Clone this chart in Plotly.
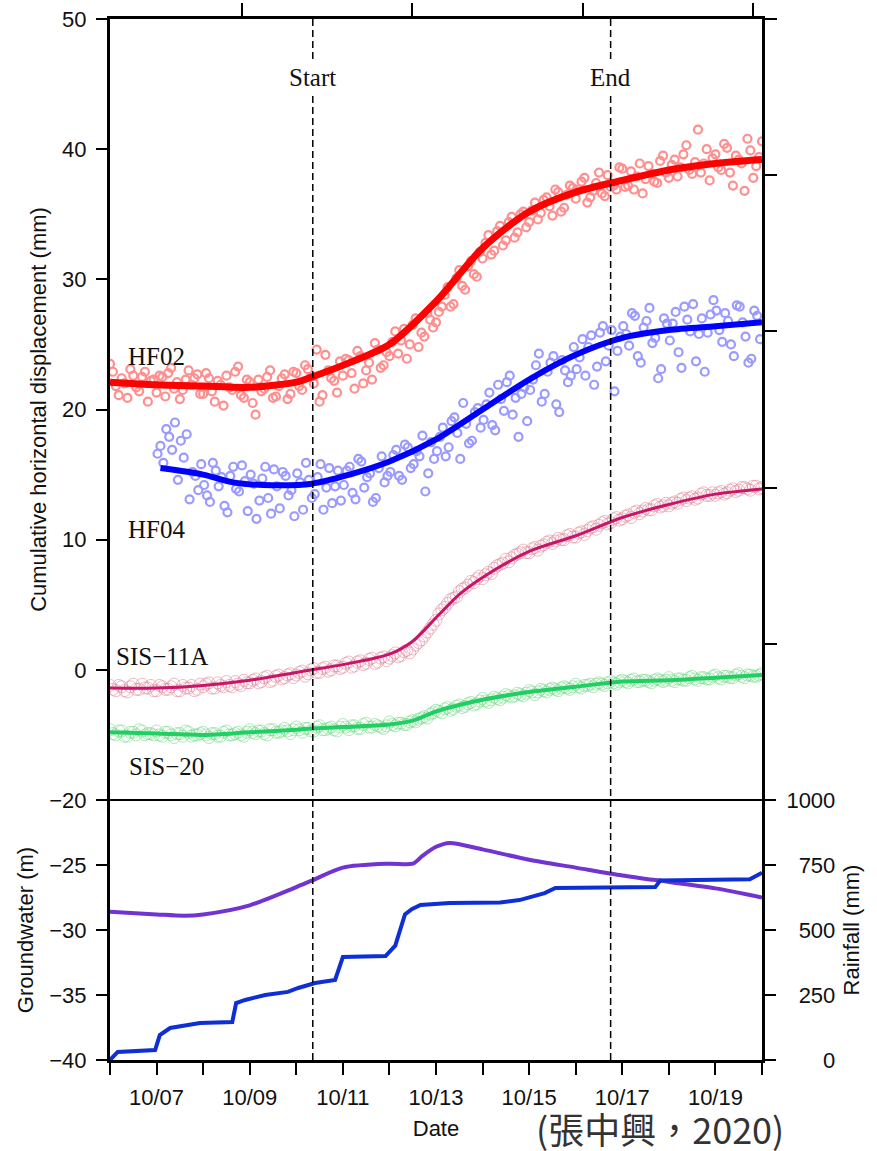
import pandas as pd
import plotly.graph_objects as go

# ---------------- data ----------------
# HF02 smooth curve
hf02_t = ["2020-10-06 00:00", "2020-10-07 00:00", "2020-10-08 00:00", "2020-10-09 00:00",
          "2020-10-10 00:00", "2020-10-10 08:00", "2020-10-11 03:30", "2020-10-12 00:00",
          "2020-10-13 00:00", "2020-10-14 00:00", "2020-10-15 00:00", "2020-10-16 00:00",
          "2020-10-17 00:00", "2020-10-18 00:00", "2020-10-19 00:00", "2020-10-20 00:00"]
hf02_v = [22.1, 21.9, 21.8, 21.7, 22.1, 22.5, 23.6, 25.0, 28.3, 32.4, 35.2, 36.7, 37.6, 38.4, 38.9, 39.2]

# HF04 smooth curve
hf04_t = ["2020-10-07 02:00", "2020-10-08 00:00", "2020-10-08 15:30", "2020-10-09 07:00",
          "2020-10-10 08:00", "2020-10-11 03:30", "2020-10-12 00:00", "2020-10-13 00:00",
          "2020-10-14 00:00", "2020-10-15 00:00", "2020-10-16 00:00", "2020-10-17 00:00",
          "2020-10-18 00:00", "2020-10-19 00:00", "2020-10-20 00:00"]
hf04_v = [15.5, 15.0, 14.4, 14.2, 14.3, 15.0, 16.0, 17.7, 20.0, 22.3, 24.2, 25.5, 26.1, 26.4, 26.7]

# SIS inclinometer curves
sis_t = ["2020-10-06 00:00", "2020-10-07 00:00", "2020-10-08 00:00", "2020-10-09 00:00",
         "2020-10-10 00:00", "2020-10-10 08:00", "2020-10-11 00:00", "2020-10-12 00:00",
         "2020-10-12 12:00", "2020-10-13 00:00", "2020-10-13 12:00", "2020-10-14 00:00",
         "2020-10-15 00:00", "2020-10-16 00:00", "2020-10-17 00:00", "2020-10-18 00:00",
         "2020-10-19 00:00", "2020-10-20 00:00"]
sis11a_v = [-1.4, -1.4, -1.2, -0.8, -0.2, 0.0, 0.4, 1.2, 2.2, 4.0, 5.8, 7.1, 9.1, 10.3, 11.7, 12.7, 13.5, 13.9]
sis20_v = [-4.8, -4.9, -5.0, -4.8, -4.6, -4.5, -4.4, -4.2, -3.9, -3.2, -2.7, -2.3, -1.7, -1.3, -0.9, -0.8, -0.6, -0.4]

# raw observations, set A (3-hourly from 00:00)
hf02_pts = [23.5, 21.8, 22.4, 20.9, 22.6, 21.4, 22.9, 22.2,
            21.3, 22.5, 22.8, 21.6, 20.8, 22.3, 21.9, 22.7,
            21.2, 22.4, 20.6, 21.9, 22.6, 21.5, 23.3, 20.9,
            22.1, 19.6, 21.4, 22.5, 20.9, 21.8, 22.7, 21.2,
            22.8, 21.5, 23.1, 22.0, 20.6, 24.2, 22.4, 21.3,
            22.6, 23.8, 21.6, 24.1, 23.0, 22.3, 24.6, 23.4,
            24.1, 26.0, 25.3, 23.9, 26.5, 24.8, 25.6, 26.9,
            26.7, 27.9, 29.4, 28.1, 30.7, 29.2, 31.4, 30.2,
            31.6, 33.4, 32.2, 34.1, 33.0, 34.8, 33.6, 35.2,
            34.4, 35.9, 35.1, 36.3, 34.9, 36.7, 35.5, 37.2,
            36.2, 37.5, 35.9, 36.8, 38.2, 36.4, 37.1, 36.9,
            38.5, 37.2, 36.9, 38.9, 37.7, 38.1, 37.4, 39.5,
            37.8, 39.2, 38.6, 40.3, 38.1, 41.5, 38.9, 37.6,
            39.6, 38.4, 40.1, 37.2, 39.2, 36.8, 39.9, 38.7,
            40.6]
hf04_pts = [16.6, 15.9, 17.9, 19.0, 17.6, 18.1, 15.2, 13.8,
            14.2, 12.9, 15.3, 14.8, 12.1, 15.6, 13.7, 14.5,
            15.0, 11.6, 14.7, 13.2, 15.4, 12.4, 14.9, 13.8,
            15.1, 12.3, 14.6, 13.5, 15.8, 14.0, 12.8, 15.3,
            14.2, 15.6, 13.1, 16.0, 14.8, 12.9, 15.5, 14.4,
            15.2, 16.9, 14.6, 17.1, 15.8, 16.4, 13.7, 17.5,
            16.8, 18.6, 17.1, 19.4, 16.2, 18.9, 17.6, 20.1,
            19.2, 21.3, 18.4, 20.8, 22.1, 19.6, 17.9, 21.7,
            21.5, 23.4, 20.6, 22.9, 24.1, 19.8, 23.0, 22.6,
            23.1, 25.4, 24.8, 21.9, 25.9, 23.7, 26.1, 24.5,
            26.4, 24.9, 27.2, 23.6, 26.8, 25.1, 22.4, 27.0,
            25.3, 27.5, 23.2, 26.9, 28.1, 25.8, 22.9, 27.3,
            27.6, 25.2, 26.8, 24.1, 27.9, 25.6, 23.9, 27.2]
sis11a_pts = [-1.2, -1.6, -1.3, -1.7, -1.1, -1.5, -1.4, -1.2,
              -1.6, -1.3, -1.5, -1.1, -1.6, -1.4, -1.2, -1.5,
              -1.3, -1.0, -1.4, -1.2, -0.9, -1.3, -1.1, -0.8,
              -1.0, -0.7, -0.9, -0.5, -0.8, -0.4, -0.6, -0.3,
              -0.4, -0.1, -0.3, 0.1, -0.2, 0.2, 0.0, 0.3,
              0.2, 0.6, 0.3, 0.7, 0.5, 0.9, 0.6, 1.0,
              0.9, 1.3, 1.1, 1.5, 1.6, 2.1, 2.6, 3.2,
              3.8, 4.6, 5.1, 5.5, 6.0, 6.3, 6.8, 7.0,
              7.0, 7.5, 7.8, 8.1, 8.5, 8.6, 8.9, 9.2,
              9.0, 9.4, 9.5, 9.8, 9.7, 10.1, 10.0, 10.4,
              10.2, 10.6, 10.7, 11.0, 11.1, 11.4, 11.3, 11.7,
              11.6, 11.9, 12.1, 12.0, 12.4, 12.3, 12.7, 12.6,
              12.6, 12.9, 13.1, 13.0, 13.3, 13.2, 13.6, 13.4,
              13.4, 13.7, 13.6, 13.9, 13.8, 14.0, 13.8, 14.1,
              14.0]
sis20_pts = [-4.6, -5.0, -4.7, -5.1, -4.8, -4.6, -5.0, -4.9,
             -4.7, -5.1, -4.8, -5.2, -4.9, -4.7, -5.1, -5.0,
             -4.8, -5.2, -4.9, -5.1, -4.7, -5.0, -4.8, -5.1,
             -4.6, -4.9, -4.7, -5.0, -4.6, -4.8, -4.5, -4.9,
             -4.4, -4.8, -4.5, -4.7, -4.3, -4.6, -4.4, -4.7,
             -4.2, -4.6, -4.3, -4.5, -4.1, -4.4, -4.3, -4.5,
             -4.0, -4.3, -4.1, -4.2, -3.9, -3.8, -3.6, -3.4,
             -3.1, -3.3, -2.9, -3.0, -2.7, -2.8, -2.5, -2.6,
             -2.2, -2.5, -2.1, -2.3, -1.9, -2.1, -1.8, -2.0,
             -1.6, -1.9, -1.5, -1.7, -1.4, -1.6, -1.3, -1.5,
             -1.1, -1.4, -1.2, -1.3, -1.0, -1.2, -0.9, -1.1,
             -0.8, -1.0, -0.7, -0.9, -0.8, -1.0, -0.7, -0.9,
             -0.6, -0.9, -0.7, -0.8, -0.5, -0.8, -0.6, -0.7,
             -0.4, -0.7, -0.5, -0.6, -0.3, -0.6, -0.4, -0.5,
             -0.3]

# raw observations, set B (3-hourly, offset by 1.5 h)
hf02_pts_b = [22.9, 21.1, 22.0, 23.1, 21.7, 22.5, 20.6, 22.3,
              22.6, 21.0, 23.2, 22.1, 21.5, 23.0, 22.4, 21.2,
              22.8, 21.4, 22.2, 20.3, 21.7, 22.9, 21.1, 22.3,
              20.5, 22.3, 21.6, 23.0, 21.0, 22.4, 20.8, 22.9,
              21.8, 23.4, 22.5, 24.6, 21.1, 23.0, 22.2, 23.7,
              23.9, 22.8, 24.5, 22.0, 23.6, 25.1, 23.2, 24.4,
              25.2, 24.3, 26.2, 25.0, 27.0, 25.9, 27.4, 26.3,
              27.5, 28.8, 27.9, 30.1, 29.5, 31.0, 30.4, 32.1,
              32.8, 31.9, 33.7, 32.6, 34.4, 33.2, 35.0, 34.0,
              35.3, 34.6, 36.1, 35.6, 36.9, 35.2, 36.5, 37.0,
              36.9, 37.8, 36.3, 37.4, 36.6, 38.0, 37.2, 38.6,
              37.1, 38.3, 37.9, 36.6, 38.7, 37.5, 39.1, 38.2,
              38.8, 37.9, 39.6, 38.4, 39.0, 38.2, 40.0, 39.3,
              38.6, 40.4, 38.2, 39.5, 38.9, 40.8, 37.8, 39.4]
hf04_pts_b = [17.2, 18.5, 16.9, 14.6, 16.3, 13.1, 14.9, 15.8,
              13.4, 15.9, 14.1, 12.6, 14.9, 13.9, 15.7, 12.2,
              14.3, 13.0, 15.6, 12.0, 14.1, 15.2, 13.4, 11.8,
              14.4, 15.9, 13.2, 14.8, 12.3, 15.5, 14.1, 13.0,
              15.3, 13.6, 16.2, 14.0, 15.1, 13.2, 16.4, 14.9,
              16.5, 14.9, 17.3, 15.5, 16.8, 18.0, 15.1, 16.2,
              17.9, 16.4, 19.1, 18.2, 20.5, 17.4, 19.8, 18.6,
              20.4, 18.8, 21.9, 19.9, 22.6, 20.9, 21.2, 19.1,
              22.3, 24.3, 21.2, 23.6, 20.4, 23.8, 22.1, 24.8,
              24.0, 22.6, 25.7, 23.3, 26.4, 24.9, 21.4, 25.6,
              25.8, 27.4, 24.1, 26.3, 27.8, 25.5, 23.1, 26.6,
              26.6, 24.4, 27.9, 26.0, 23.7, 27.0, 25.9, 28.4,
              26.1, 27.4, 25.0, 28.0, 26.7, 23.6, 27.6, 25.4]
sis11a_pts_b = [-1.5, -1.2, -1.6, -1.3, -1.5, -1.1, -1.4, -1.6,
                -1.2, -1.5, -1.3, -1.6, -1.2, -1.4, -1.6, -1.1,
                -1.1, -1.4, -1.0, -1.3, -1.2, -0.9, -1.2, -1.0,
                -0.8, -1.0, -0.6, -0.9, -0.5, -0.7, -0.4, -0.6,
                -0.2, -0.5, 0.0, -0.2, 0.1, -0.1, 0.3, 0.1,
                0.5, 0.2, 0.6, 0.4, 0.8, 0.5, 0.9, 0.7,
                1.1, 1.0, 1.4, 1.3, 1.9, 2.3, 2.9, 3.5,
                4.3, 4.8, 5.4, 5.6, 6.2, 6.5, 6.7, 7.2,
                7.3, 7.4, 8.0, 8.2, 8.3, 8.8, 9.0, 9.0,
                9.3, 9.2, 9.6, 9.9, 9.9, 10.0, 10.3, 10.2,
                10.5, 10.4, 10.9, 10.8, 11.3, 11.2, 11.6, 11.5,
                11.8, 11.7, 12.2, 12.2, 12.3, 12.6, 12.5, 12.8,
                12.8, 12.8, 13.2, 13.2, 13.1, 13.5, 13.4, 13.6,
                13.6, 13.5, 13.8, 13.7, 14.0, 13.9, 14.1, 13.9]
sis20_pts_b = [-4.9, -4.7, -5.1, -4.8, -5.0, -4.7, -4.9, -5.0,
               -5.0, -4.8, -5.0, -4.9, -5.1, -4.8, -5.0, -4.9,
               -5.0, -4.9, -5.1, -4.8, -5.0, -4.9, -5.0, -4.8,
               -4.8, -4.7, -4.9, -4.6, -4.8, -4.7, -4.7, -4.6,
               -4.6, -4.5, -4.7, -4.4, -4.6, -4.5, -4.6, -4.4,
               -4.4, -4.3, -4.5, -4.2, -4.4, -4.2, -4.4, -4.3,
               -4.2, -4.1, -4.2, -4.0, -4.0, -3.7, -3.7, -3.3,
               -3.2, -3.0, -3.1, -2.8, -2.9, -2.6, -2.7, -2.4,
               -2.4, -2.3, -2.2, -2.1, -2.0, -2.0, -1.9, -1.8,
               -1.7, -1.7, -1.6, -1.5, -1.5, -1.4, -1.4, -1.3,
               -1.3, -1.2, -1.1, -1.1, -1.1, -1.0, -1.0, -0.9,
               -0.9, -0.8, -0.9, -0.8, -0.9, -0.8, -0.8, -0.8,
               -0.8, -0.7, -0.8, -0.6, -0.7, -0.6, -0.7, -0.5,
               -0.6, -0.5, -0.6, -0.4, -0.5, -0.4, -0.5, -0.4]

# groundwater level (m)
gw_t = ["2020-10-06 00:00", "2020-10-07 00:00", "2020-10-07 14:00", "2020-10-08 00:00",
        "2020-10-09 00:00", "2020-10-10 00:00", "2020-10-10 08:00", "2020-10-11 00:00",
        "2020-10-12 00:00", "2020-10-12 12:00", "2020-10-12 17:00", "2020-10-13 00:00",
        "2020-10-13 07:00", "2020-10-14 00:00", "2020-10-15 00:00", "2020-10-16 00:00",
        "2020-10-17 00:00", "2020-10-18 00:00", "2020-10-19 00:00", "2020-10-20 00:00"]
gw_v = [-28.6, -28.8, -28.9, -28.8, -28.1, -26.7, -26.2, -25.2, -24.9, -24.9, -24.3, -23.6,
        -23.3, -23.8, -24.6, -25.2, -25.8, -26.3, -26.8, -27.5]

# cumulative rainfall (mm)
rain_t = ["2020-10-06 00:00", "2020-10-06 04:00", "2020-10-06 23:15", "2020-10-07 01:40",
          "2020-10-07 07:00", "2020-10-07 22:20", "2020-10-08 15:00", "2020-10-08 17:00",
          "2020-10-08 21:40", "2020-10-09 08:00", "2020-10-09 19:40", "2020-10-10 01:00",
          "2020-10-10 09:40", "2020-10-10 20:00", "2020-10-11 00:00", "2020-10-11 22:00",
          "2020-10-12 03:00", "2020-10-12 05:30", "2020-10-12 08:00", "2020-10-12 11:30",
          "2020-10-12 16:00", "2020-10-13 07:00", "2020-10-14 09:00", "2020-10-14 19:00",
          "2020-10-15 08:00", "2020-10-15 13:30", "2020-10-17 17:00", "2020-10-17 19:30",
          "2020-10-19 17:45", "2020-10-20 00:00"]
rain_v = [0, 31, 38, 96, 123, 142, 146, 219, 231, 250, 262, 277, 296, 308, 396, 400, 440, 500,
          560, 580, 596, 604, 606, 615, 642, 662, 665, 690, 695, 720]

start_time = "2020-10-10 08:30"
end_time = "2020-10-16 18:00"
x_range = ["2020-10-06 00:00", "2020-10-20 00:00"]
top_ticks = ["2020-10-08 20:00", "2020-10-12 11:30", "2020-10-16 03:30", "2020-10-19 19:30"]

# sampling times of raw observations (3-hourly)
t_full = pd.date_range("2020-10-06 00:00", periods=len(hf02_pts), freq="3h")
t_full_b = pd.date_range("2020-10-06 01:30", periods=len(hf02_pts_b), freq="3h")
t_hf04 = pd.date_range("2020-10-07 00:30", periods=len(hf04_pts), freq="3h")
t_hf04_b = pd.date_range("2020-10-07 02:00", periods=len(hf04_pts_b), freq="3h")

# ---------------- figure ----------------
fig = go.Figure()

def pts(t, v, color, size, lw, yaxis="y"):
    fig.add_trace(go.Scatter(x=t, y=v, mode="markers", xaxis="x", yaxis=yaxis,
                             marker=dict(symbol="circle-open", color=color, size=size,
                                         line=dict(width=lw, color=color)),
                             showlegend=False, hoverinfo="skip"))

def line(t, v, color, width, yaxis="y", xaxis="x", shape="spline"):
    fig.add_trace(go.Scatter(x=t, y=v, mode="lines", xaxis=xaxis, yaxis=yaxis,
                             line=dict(color=color, width=width, shape=shape, smoothing=0.8),
                             showlegend=False))

sis_col = "rgba(220,120,140,0.5)"
grn_col = "rgba(110,215,130,0.55)"
pts(t_full, sis11a_pts, sis_col, 12, 1)
pts(t_full_b, sis11a_pts_b, sis_col, 12, 1)
pts(t_full, sis20_pts, grn_col, 12, 1)
pts(t_full_b, sis20_pts_b, grn_col, 12, 1)
pts(t_full, hf02_pts, "#ff8f8f", 8, 2.2)
pts(t_full_b, hf02_pts_b, "#ff8f8f", 8, 2.2)
pts(t_hf04, hf04_pts, "#9a9aff", 8, 2.2)
pts(t_hf04_b, hf04_pts_b, "#9a9aff", 8, 2.2)

line(sis_t, sis11a_v, "#c8156a", 3)
line(sis_t, sis20_v, "#1fcf62", 4, yaxis="y3")
line(hf02_t, hf02_v, "#ff0000", 7)
line(hf04_t, hf04_v, "#0000ff", 6)

line(gw_t, gw_v, "#7133d1", 4, yaxis="y2", xaxis="x2")
line(rain_t, rain_v, "#0f2fd6", 4, yaxis="y4", xaxis="x2", shape="linear")

tickfont = dict(family="Liberation Sans, Arial, sans-serif", size=22, color="#111")
titlefont = dict(family="Liberation Sans, Arial, sans-serif", size=22, color="#111")
split = 260 / 1041

fig.update_layout(
    width=877, height=1151,
    margin=dict(l=110, r=115, t=19, b=91, autoexpand=False),
    paper_bgcolor="white", plot_bgcolor="white",
    showlegend=False,
    xaxis=dict(type="date", range=x_range, anchor="y", side="top", automargin=False,
               tickmode="array", tickvals=top_ticks, showticklabels=False,
               ticks="outside", ticklen=13, tickwidth=1.5, tickcolor="black",
               showline=True, linewidth=3, linecolor="black", mirror=False,
               showgrid=False, zeroline=False),
    yaxis=dict(domain=[split, 1], range=[-10, 50], anchor="x", automargin=False,
               tickmode="array", tickvals=[0, 10, 20, 30, 40, 50],
               ticks="outside", ticklen=11, tickwidth=1.5, tickcolor="black",
               ticklabelstandoff=5, tickfont=tickfont,
               showline=True, linewidth=3, linecolor="black",
               showgrid=False, zeroline=False,
               title=dict(text="Cumulative horizontal displacement (mm)", font=titlefont, standoff=10)),
    yaxis3=dict(range=[-10, 50], overlaying="y", side="right", anchor="x", automargin=False,
                tickmode="array", tickvals=[2, 14, 26, 38, 50], showticklabels=False,
                ticks="outside", ticklen=12, tickwidth=1.5, tickcolor="black",
                showline=True, linewidth=3, linecolor="black",
                showgrid=False, zeroline=False),
    xaxis2=dict(type="date", range=x_range, anchor="y2", automargin=False,
                tick0="2020-10-07", dtick=2 * 86400000, tickformat="%m/%d",
                ticks="outside", ticklen=12, tickwidth=1.5, tickcolor="black",
                minor=dict(dtick=86400000, ticks="outside", ticklen=12, tickwidth=1.5, tickcolor="black", showgrid=False),
                tickfont=tickfont, ticklabelstandoff=4,
                showline=True, linewidth=3, linecolor="black", mirror=False,
                showgrid=False, zeroline=False,
                title=dict(text="Date", font=titlefont, standoff=12)),
    yaxis2=dict(domain=[0, split], range=[-40, -20], anchor="x2", automargin=False,
                tickmode="array", tickvals=[-40, -35, -30, -25, -20],
                ticks="outside", ticklen=11, tickwidth=1.5, tickcolor="black",
                ticklabelstandoff=5, tickfont=tickfont,
                showline=True, linewidth=3, linecolor="black",
                showgrid=False, zeroline=False,
                title=dict(text="Groundwater (m)", font=titlefont, standoff=10)),
    yaxis4=dict(range=[0, 1000], overlaying="y2", side="right", anchor="x2", automargin=False,
                tickmode="array", tickvals=[0, 250, 500, 750, 1000],
                ticktext=["\u2007\u2007\u20070", "\u2007250", "\u2007500", "\u2007750", "1000"],
                ticks="outside", ticklen=11, tickwidth=1.5, tickcolor="black",
                ticklabelstandoff=6, tickfont=tickfont,
                showline=True, linewidth=3, linecolor="black",
                showgrid=False, zeroline=False,
                title=dict(text="Rainfall (mm)", font=titlefont, standoff=10)),
)

# divider between the two panels
fig.add_shape(type="line", xref="paper", yref="paper", x0=0, x1=1, y0=split, y1=split,
              line=dict(color="black", width=2))

for t in (start_time, end_time):
    fig.add_shape(type="line", xref="x", yref="paper", x0=t, x1=t, y0=0, y1=1,
                  line=dict(color="black", width=1.5, dash="7px,4px"))

serif = dict(family="Liberation Serif, Times New Roman, serif", size=25, color="#111")
fig.add_annotation(x=start_time, y=45.5, xref="x", yref="y", text="Start", showarrow=False,
                   font=serif, bgcolor="white")
fig.add_annotation(x=end_time, y=45.5, xref="x", yref="y", text="End", showarrow=False,
                   font=serif, bgcolor="white")
labels = [("HF02", "2020-10-06 08:00", 24.1), ("HF04", "2020-10-06 08:00", 10.75),
          ("SIS\u221211A", "2020-10-06 02:00", 1.0), ("SIS\u221220", "2020-10-06 09:00", -7.45)]
for txt, lx, ly in labels:
    fig.add_annotation(x=lx, y=ly, xref="x", yref="y", text=txt, showarrow=False,
                       xanchor="left", yanchor="middle", font=serif)

fig.add_annotation(x=1.035, y=-0.0655, xref="paper", yref="paper", text="(張中興，2020)",
                   showarrow=False, xanchor="right", yanchor="middle", borderpad=0,
                   font=dict(family="Noto Sans CJK TC, Noto Sans CJK SC, sans-serif", size=36, color="#333"))

fig.write_html("out.html")
